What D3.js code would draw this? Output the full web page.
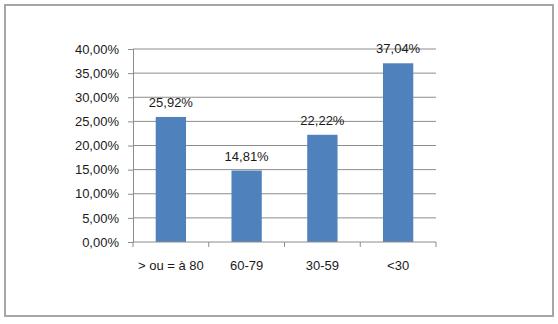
<!DOCTYPE html>
<html>
<head>
<meta charset="utf-8">
<script src="https://cdn.jsdelivr.net/npm/d3@7"></script>
<style>
body { margin: 0; background: #fff; }
text { font-family: "Liberation Sans", Arial, sans-serif; font-size: 13px; fill: #1a1a1a; }
</style>
</head>
<body>
<svg width="558" height="324"></svg>
<script>
// data
var categories = ["> ou = à 80", "60-79", "30-59", "<30"];
var values = [25.92, 14.81, 22.22, 37.04];
var yTicks = [0, 5, 10, 15, 20, 25, 30, 35, 40];

var svg = d3.select("svg");

// outer frame
svg.append("rect")
	.attr("x", 5).attr("y", 5)
	.attr("width", 548).attr("height", 311)
	.attr("fill", "#fff")
	.attr("stroke", "#a6a6a6")
	.attr("stroke-width", 2);

var plot = { left: 133, right: 436, top: 49, bottom: 242 };

var x = d3.scaleBand()
	.domain(categories)
	.range([plot.left, plot.right])
	.paddingInner(0.6)
	.paddingOuter(0.3);

var y = d3.scaleLinear()
	.domain([0, 40])
	.range([plot.bottom, plot.top]);

var fmt = function(v){ return v.toFixed(2).replace(".", ",") + "%"; };

// gridlines
svg.append("g").selectAll("line")
	.data(yTicks.filter(function(d){ return d > 0; }))
	.enter().append("line")
	.attr("x1", plot.left).attr("x2", plot.right)
	.attr("y1", function(d){ return y(d); })
	.attr("y2", function(d){ return y(d); })
	.attr("stroke", "#8c8c8c")
	.attr("stroke-width", 1);

// y axis
var yAxis = svg.append("g")
	.attr("transform", "translate(" + plot.left + ",0)")
	.call(d3.axisLeft(y).tickValues(yTicks).tickSize(5).tickPadding(9).tickFormat(fmt));
yAxis.selectAll("path, line").attr("stroke", "#8c8c8c");
yAxis.selectAll("text").style("font-size", "13px").style("font-family", "Liberation Sans, Arial, sans-serif");

// bars
svg.append("g").selectAll("rect")
	.data(values)
	.enter().append("rect")
	.attr("x", function(d, i){ return x(categories[i]); })
	.attr("y", function(d){ return y(d); })
	.attr("width", x.bandwidth())
	.attr("height", function(d){ return y(0) - y(d); })
	.attr("fill", "#4f81bd");

// x axis with ticks at category boundaries
var step = (plot.right - plot.left) / categories.length;
var xAxis = svg.append("g");
xAxis.append("line")
	.attr("x1", plot.left).attr("x2", plot.right)
	.attr("y1", plot.bottom).attr("y2", plot.bottom)
	.attr("stroke", "#8c8c8c");
xAxis.selectAll("line.tick")
	.data(d3.range(categories.length + 1))
	.enter().append("line")
	.attr("class", "tick")
	.attr("x1", function(i){ return plot.left + i * step; })
	.attr("x2", function(i){ return plot.left + i * step; })
	.attr("y1", plot.bottom).attr("y2", plot.bottom + 5)
	.attr("stroke", "#8c8c8c");
xAxis.selectAll("text")
	.data(categories)
	.enter().append("text")
	.attr("x", function(d){ return x(d) + x.bandwidth() / 2; })
	.attr("y", 270)
	.attr("text-anchor", "middle")
	.text(function(d){ return d; });

// data labels
svg.append("g").selectAll("text")
	.data(values)
	.enter().append("text")
	.attr("x", function(d, i){ return x(categories[i]) + x.bandwidth() / 2; })
	.attr("y", function(d){ return y(d) - 10; })
	.attr("text-anchor", "middle")
	.text(fmt);
</script>
</body>
</html>
